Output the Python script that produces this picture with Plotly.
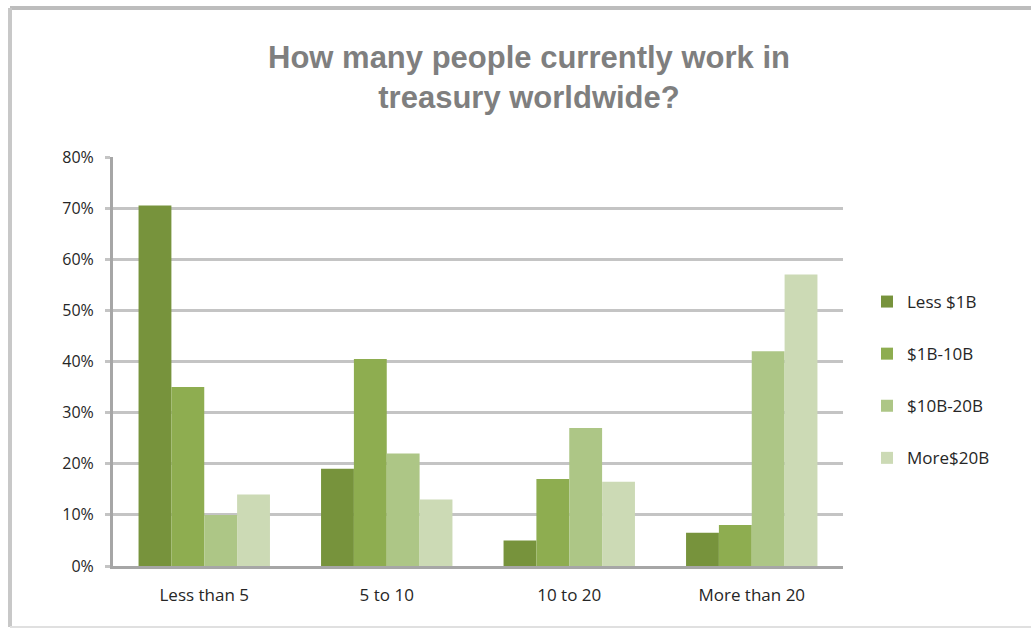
import plotly.graph_objects as go

# Survey data: share of respondents per treasury headcount band, by company revenue
categories = ["Less than 5", "5 to 10", "10 to 20", "More than 20"]
series_names = ["Less $1B", "$1B-10B", "$10B-20B", "More$20B"]
less_1b = [70.5, 19, 5, 6.5]
b1_10b = [35, 40.5, 17, 8]
b10_20b = [10, 22, 27, 42]
more_20b = [14, 13, 16.5, 57]
y_ticks = [0, 10, 20, 30, 40, 50, 60, 70, 80]
y_tick_labels = ["0%", "10%", "20%", "30%", "40%", "50%", "60%", "70%", "80%"]

colors = ["#77933C", "#8EAD50", "#ADC686", "#CCDAB5"]

W, H = 1031, 628
L, R, T, B = 113, 188, 157, 62
pw, ph = W - L - R, H - T - B


def px_x(x):
    return (x - L) / pw


def px_y(y):
    return (H - B - y) / ph


fig = go.Figure()
for i, (name, vals) in enumerate(zip(series_names, [less_1b, b1_10b, b10_20b, more_20b])):
    fig.add_trace(go.Bar(
        x=categories, y=vals, name=name, legendgroup=name,
        marker=dict(color=colors[i], line=dict(width=0)),
    ))

fig.update_layout(
    width=W, height=H,
    margin=dict(l=L, r=R, t=T, b=B, autoexpand=False),
    paper_bgcolor="white", plot_bgcolor="white",
    barmode="group", bargap=0.28, bargroupgap=0,
    title=dict(
        text="How many people currently work in<br>treasury worldwide?",
        x=px_x(529), xref="paper", xanchor="center",
        y=1 - 68 / H, yref="container", yanchor="middle",
        font=dict(family="Liberation Sans", size=31, color="#7F7F7F", weight="bold"),
    ),
    font=dict(family="Open Sans", color="#262626"),
    xaxis=dict(
        showgrid=False, showline=True, linecolor="#A6A6A6", linewidth=3,
        ticks="", tickfont=dict(size=17, color="#262626"),
        ticklabelstandoff=12,
    ),
    yaxis=dict(
        range=[0, 80], tickvals=y_ticks, ticktext=y_tick_labels,
        showgrid=True, gridcolor="#C4C4C4", gridwidth=3,
        showline=True, linecolor="#A6A6A6", linewidth=3,
        ticks="outside", ticklen=5, tickcolor="#C4C4C4", tickwidth=3,
        tickfont=dict(size=16, color="#262626"), zeroline=False,
        ticklabelstandoff=8,
    ),
    legend=dict(
        x=px_x(867), xanchor="left", y=px_y(284), yanchor="top",
        font=dict(size=17, color="#262626"), tracegroupgap=27,
        itemwidth=30, bgcolor="rgba(0,0,0,0)",
    ),
    shapes=[
        # outer frame of the chart card
        dict(type="line", xref="paper", yref="paper",
             x0=px_x(10), x1=px_x(W), y0=px_y(8), y1=px_y(8),
             line=dict(color="#BDBDBD", width=4)),
        dict(type="line", xref="paper", yref="paper",
             x0=px_x(10), x1=px_x(10), y0=px_y(8), y1=px_y(627),
             line=dict(color="#C8C8C8", width=4)),
        dict(type="line", xref="paper", yref="paper",
             x0=px_x(10), x1=px_x(W), y0=px_y(627), y1=px_y(627),
             line=dict(color="#E0E0E0", width=2)),
    ],
)

fig.write_html("out.html")
